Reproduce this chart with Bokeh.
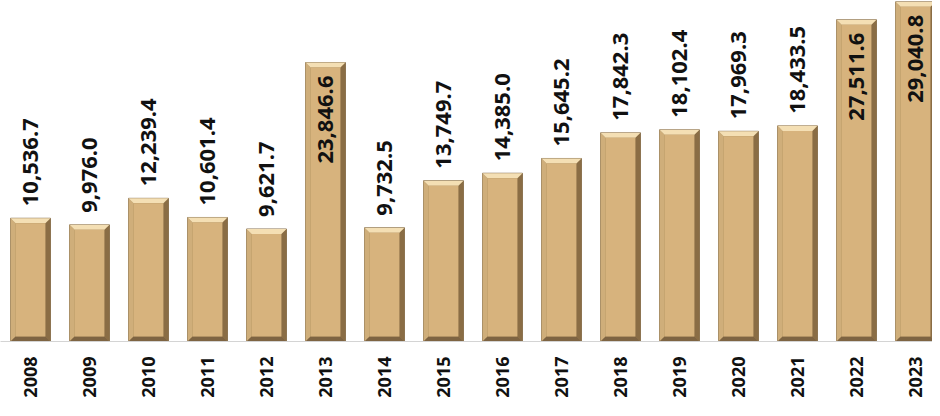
import math
from bokeh.plotting import figure
from bokeh.models import ColumnDataSource, Range1d, FixedTicker
from bokeh.core.properties import value
from bokeh.embed import file_html
from bokeh.resources import INLINE

years = ["2008", "2009", "2010", "2011", "2012", "2013", "2014", "2015",
         "2016", "2017", "2018", "2019", "2020", "2021", "2022", "2023"]
values = [10536.7, 9976.0, 12239.4, 10601.4, 9621.7, 23846.6, 9732.5, 13749.7,
          14385.0, 15645.2, 17842.3, 18102.4, 17969.3, 18433.5, 27511.6, 29040.8]

W = 932
H = 400
STEP = 59.0
X0 = 30.0
p = figure(width=W, height=H, output_backend="svg", toolbar_location=None,
           x_range=Range1d(-X0 / STEP, -X0 / STEP + W / STEP),
           y_range=Range1d(0, 29150),
           min_border_left=0, min_border_right=0, min_border_top=0, min_border_bottom=0)
p.yaxis.visible = False
p.xgrid.visible = False
p.ygrid.visible = False
p.outline_line_color = None
p.background_fill_color = "white"
p.border_fill_color = "white"

xs = list(range(len(years)))
hw = 0.338
bx = 0.086
by = 430.0

outer = dict(left=[], right=[], top=[], bottom=[])
top_p, left_p, right_p, bot_p = [], [], [], []
face = dict(left=[], right=[], top=[], bottom=[])
for c, v in zip(xs, values):
    l, r = c - hw, c + hw
    outer["left"].append(l); outer["right"].append(r)
    outer["top"].append(v); outer["bottom"].append(0)
    top_p.append(([l, r, r - bx, l + bx], [v, v, v - by, v - by]))
    left_p.append(([l, l + bx, l + bx, l], [v, v - by, by, 0]))
    right_p.append(([r, r - bx, r - bx, r], [v, v - by, by, 0]))
    bot_p.append(([l, r, r - bx, l + bx], [0, 0, by, by]))
    face["left"].append(l + bx); face["right"].append(r - bx)
    face["top"].append(v - by); face["bottom"].append(by)

p.quad(source=ColumnDataSource(outer), left="left", right="right", top="top", bottom="bottom",
       fill_color="#9C7E52", line_color="#7A6240", line_width=0.8)

def patches(pl, color):
    p.patches(xs=[a for a, b in pl], ys=[b for a, b in pl], fill_color=color, line_color=None)

patches(left_p, "#CFAE7A")
patches(right_p, "#8A6D45")
patches(bot_p, "#7E6442")
patches(top_p, "#F4DFB4")

p.quad(source=ColumnDataSource(face), left="left", right="right", top="top", bottom="bottom",
       fill_color="#D7B37D", line_color=None)

labels = [f"{v:,.1f}" for v in values]
inside = [v > 20000 for v in values]
out_src = ColumnDataSource(dict(x=[x for x, i in zip(xs, inside) if not i],
                                y=[v for v, i in zip(values, inside) if not i],
                                t=[t for t, i in zip(labels, inside) if not i]))
in_src = ColumnDataSource(dict(x=[x for x, i in zip(xs, inside) if i],
                               y=[v for v, i in zip(values, inside) if i],
                               t=[t for t, i in zip(labels, inside) if i]))
common = dict(text="t", angle=math.pi / 2, text_baseline="middle",
              text_font=value("Open Sans"), text_font_style="bold",
              text_font_size="22px", text_color="#111111")
p.text(x="x", y="y", source=out_src, text_align="left", y_offset=-12, **common)
p.text(x="x", y="y", source=in_src, text_align="right", y_offset=13, **common)

ax = p.xaxis[0]
ax.ticker = FixedTicker(ticks=xs)
ax.major_label_overrides = {i: y for i, y in zip(xs, years)}
ax.major_label_orientation = math.pi / 2
ax.major_label_text_font = "Open Sans"
ax.major_label_text_font_style = "bold"
ax.major_label_text_font_size = "18px"
ax.major_label_text_color = "#111111"
ax.major_label_standoff = 15
ax.major_tick_line_color = None
ax.minor_tick_line_color = None
ax.major_tick_out = 0
ax.major_tick_in = 0
ax.axis_line_color = "#D4D4D4"
ax.axis_line_width = 1

open("out.html", "w").write(file_html(p, INLINE))
